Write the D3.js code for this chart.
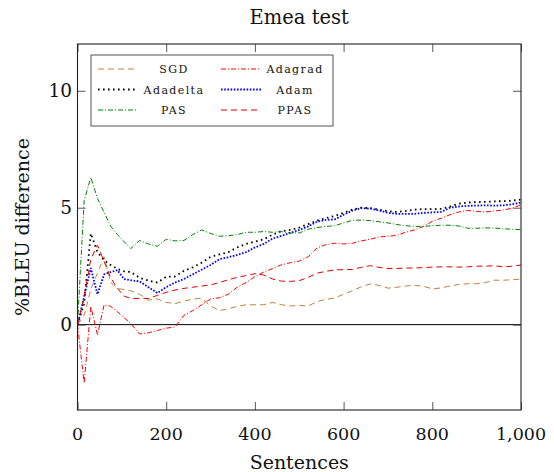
<!DOCTYPE html>
<html>
<head>
<meta charset="utf-8">
<script src="https://cdn.jsdelivr.net/npm/d3@7"></script>
<style>
  body { margin: 0; background: white; }
</style>
</head>
<body>
<div id="container"></div>
<script>
const sentences = [0, 15, 30, 45, 60, 75, 90, 105, 120, 140, 160, 180, 200, 220, 240, 260, 280, 300,
  320, 340, 360, 380, 400, 420, 440, 460, 480, 500, 520, 540, 560, 580, 600, 620, 640, 660, 680,
  700, 720, 740, 760, 780, 800, 820, 840, 860, 880, 900, 920, 940, 960, 980, 1000]

const sgd = [0, 0.4, 1.5, 2.2, 2.9, 1.8, 1.55, 1.5, 1.45, 1.3, 1.05, 1.1, 0.95, 0.9, 1.0, 1.1, 1.12, 0.8,
  0.6, 0.68, 0.78, 0.85, 0.85, 0.85, 0.95, 0.85, 0.8, 0.82, 0.8, 0.98, 1.08, 1.14, 1.3, 1.45, 1.62, 1.74, 1.68,
  1.56, 1.6, 1.65, 1.68, 1.64, 1.53, 1.57, 1.65, 1.72, 1.75, 1.75, 1.8, 1.9, 1.9, 1.92, 1.95]

const adagrad = [0, -2.5, 0.78, -0.43, 0.85, 0.78, 0.55, 0.3, 0.05, -0.4, -0.35, -0.25, -0.15, -0.1, 0.4, 0.6, 0.85, 1.1,
  1.15, 1.3, 1.6, 1.8, 2.05, 2.25, 2.4, 2.56, 2.65, 2.72, 2.9, 3.28, 3.42, 3.48, 3.45, 3.48, 3.58, 3.65, 3.75,
  3.78, 3.82, 3.95, 4.05, 4.2, 4.42, 4.55, 4.7, 4.82, 4.88, 4.84, 4.82, 4.86, 4.9, 4.98, 5.12]

const adadelta = [0, 0.9, 3.9, 3.1, 2.75, 2.55, 2.38, 2.28, 2.25, 2.0, 1.88, 1.8, 2.05, 2.06, 2.3, 2.45, 2.65, 2.9,
  3.0, 3.1, 3.3, 3.45, 3.55, 3.65, 3.85, 4.0, 4.05, 4.15, 4.3, 4.45, 4.55, 4.65, 4.78, 4.92, 5.0, 4.98, 4.92,
  4.85, 4.82, 4.86, 4.92, 4.94, 4.94, 4.95, 5.05, 5.17, 5.22, 5.24, 5.25, 5.27, 5.28, 5.3, 5.35]

const adam = [0, 1.2, 2.42, 1.3, 2.15, 2.25, 2.33, 1.95, 1.9, 1.85, 1.6, 1.35, 1.6, 1.8, 1.95, 2.15, 2.35, 2.55,
  2.8, 2.88, 2.98, 3.1, 3.3, 3.45, 3.68, 3.8, 3.92, 4.05, 4.2, 4.4, 4.48, 4.5, 4.7, 4.88, 4.98, 4.96, 4.88,
  4.78, 4.74, 4.74, 4.74, 4.78, 4.8, 4.82, 5.0, 5.05, 5.08, 5.09, 5.1, 5.09, 5.1, 5.15, 5.22]

const pas = [0, 5.3, 6.3, 5.4, 4.8, 4.2, 3.85, 3.55, 3.25, 3.6, 3.45, 3.35, 3.65, 3.58, 3.6, 3.85, 4.05, 3.9,
  3.78, 3.8, 3.85, 3.95, 3.95, 3.98, 3.95, 3.98, 3.92, 3.92, 4.08, 4.15, 4.2, 4.23, 4.35, 4.46, 4.47, 4.45, 4.4,
  4.35, 4.28, 4.23, 4.2, 4.2, 4.23, 4.25, 4.25, 4.22, 4.12, 4.12, 4.14, 4.13, 4.1, 4.08, 4.06]

const ppas = [0, 1.2, 2.8, 3.4, 2.7, 2.0, 1.55, 1.22, 1.12, 1.12, 1.12, 1.25, 1.38, 1.48, 1.55, 1.6, 1.65, 1.7,
  1.8, 1.92, 2.02, 2.1, 2.18, 2.12, 1.95, 1.86, 1.85, 1.88, 2.02, 2.2, 2.28, 2.34, 2.35, 2.36, 2.45, 2.52, 2.45,
  2.4, 2.4, 2.42, 2.42, 2.44, 2.46, 2.47, 2.47, 2.46, 2.47, 2.5, 2.5, 2.52, 2.47, 2.5, 2.55]

const xTicks = [0, 200, 400, 600, 800, 1000]
const yTicks = [0, 5, 10]

const series = [
  { name: 'SGD', values: sgd, color: '#bf8040', width: 1, dash: '6,4' },
  { name: 'Adagrad', values: adagrad, color: '#ff0000', width: 1, dash: '5,2,1,2' },
  { name: 'Adadelta', values: adadelta, color: '#000000', width: 1.8, dash: '1.6,3.4' },
  { name: 'Adam', values: adam, color: '#0000ff', width: 1.8, dash: '1.6,1.6' },
  { name: 'PAS', values: pas, color: '#008000', width: 1, dash: '5,2,1,2' },
  { name: 'PPAS', values: ppas, color: '#e00000', width: 1, dash: '6,4' }
]

const serif = "'DejaVu Serif', serif"

const w = 554
const h = 472
const plotLeft = 77.5
const plotRight = 521
const plotTop = 44
const plotBottom = 410

const svg = d3.select('#container')
  .append('svg')
    .attr('width', w)
    .attr('height', h)

const scaleX = d3.scaleLinear().domain([0, 1000]).range([plotLeft, plotRight])
const scaleY = d3.scaleLinear().domain([-3.65, 12]).range([plotBottom, plotTop])

// lines, clipped to the plot box
svg.append('clipPath').attr('id', 'clip')
  .append('rect')
    .attr('x', plotLeft).attr('y', plotTop)
    .attr('width', plotRight - plotLeft).attr('height', plotBottom - plotTop)

const plot = svg.append('g').attr('clip-path', 'url(#clip)')

plot.append('line')
  .attr('x1', plotLeft).attr('x2', plotRight)
  .attr('y1', scaleY(0)).attr('y2', scaleY(0))
  .attr('stroke', '#000')
  .attr('stroke-width', 1)

const line = d3.line()
  .x((d, i) => scaleX(sentences[i]))
  .y(d => scaleY(d))

series.forEach(s => {
  plot.append('path')
    .datum(s.values)
    .attr('d', line)
    .attr('fill', 'none')
    .attr('stroke', s.color)
    .attr('stroke-width', s.width)
    .attr('stroke-dasharray', s.dash)
})

// axes, ticks pointing inward on all four sides
const tick = 8
svg.append('g')
  .attr('transform', `translate(0, ${plotBottom})`)
  .call(d3.axisTop(scaleX).tickValues(xTicks).tickSize(tick).tickFormat(''))
svg.append('g')
  .attr('transform', `translate(0, ${plotTop})`)
  .call(d3.axisBottom(scaleX).tickValues(xTicks).tickSize(tick).tickFormat(''))
svg.append('g')
  .attr('transform', `translate(${plotLeft}, 0)`)
  .call(d3.axisRight(scaleY).tickValues(yTicks).tickSize(tick).tickFormat(''))
svg.append('g')
  .attr('transform', `translate(${plotRight}, 0)`)
  .call(d3.axisLeft(scaleY).tickValues(yTicks).tickSize(tick).tickFormat(''))

svg.selectAll('.domain').remove()
svg.selectAll('.tick line').attr('stroke', '#444').attr('stroke-width', 0.9)

svg.append('rect')
  .attr('x', plotLeft).attr('y', plotTop)
  .attr('width', plotRight - plotLeft).attr('height', plotBottom - plotTop)
  .attr('fill', 'none')
  .attr('stroke', '#222')
  .attr('stroke-width', 1.1)

const addText = (sel) => sel.style('font-family', serif).attr('fill', '#111')

// tick labels
svg.selectAll('.xlab')
  .data(xTicks)
  .enter()
  .append('text')
    .call(addText)
    .attr('x', d => scaleX(d))
    .attr('y', 440)
    .attr('text-anchor', 'middle')
    .attr('font-size', 17.5)
    .text(d => d3.format(',')(d))

svg.selectAll('.ylab')
  .data(yTicks)
  .enter()
  .append('text')
    .call(addText)
    .attr('x', 72)
    .attr('y', d => scaleY(d) + 6.5)
    .attr('text-anchor', 'end')
    .attr('font-size', 18.5)
    .text(d => d)

// titles
svg.append('text')
  .call(addText)
  .attr('x', (plotLeft + plotRight) / 2)
  .attr('y', 24)
  .attr('text-anchor', 'middle')
  .attr('font-size', 19.5)
  .text('Emea test')

svg.append('text')
  .call(addText)
  .attr('x', (plotLeft + plotRight) / 2)
  .attr('y', 469)
  .attr('text-anchor', 'middle')
  .attr('font-size', 19)
  .text('Sentences')

svg.append('text')
  .call(addText)
  .attr('transform', `translate(29, ${(plotTop + plotBottom) / 2}) rotate(-90)`)
  .attr('text-anchor', 'middle')
  .attr('font-size', 19)
  .text('%BLEU difference')

// legend
const legend = svg.append('g')
legend.append('rect')
  .attr('x', 91).attr('y', 55)
  .attr('width', 242).attr('height', 71)
  .attr('fill', 'white')
  .attr('stroke', '#555')
  .attr('stroke-width', 1)

series.forEach((s, i) => {
  const col = i % 2
  const row = Math.floor(i / 2)
  const ly = 69 + row * 20.5
  const sx = col === 0 ? 98 : 221
  const tx = col === 0 ? 174 : 295
  legend.append('line')
    .attr('x1', sx).attr('x2', sx + 40)
    .attr('y1', ly).attr('y2', ly)
    .attr('stroke', s.color)
    .attr('stroke-width', s.width)
    .attr('stroke-dasharray', s.dash)
  legend.append('text')
    .call(addText)
    .attr('x', tx)
    .attr('y', ly + 4)
    .attr('text-anchor', 'middle')
    .attr('font-size', 11)
    .attr('letter-spacing', 1.4)
    .text(s.name)
})
</script>
</body>
</html>
